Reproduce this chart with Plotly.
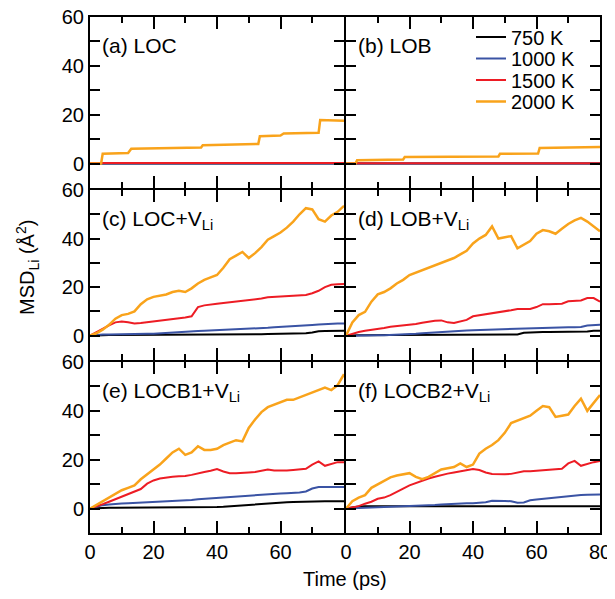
import plotly.graph_objects as go

W, H = 615, 599

# ---------------- data ----------------
t = list(range(0, 81, 2))  # time (ps), 2 ps steps

# (a) LOC
a_t_step = [0, 3.5, 4, 12, 13, 35, 35.5, 53, 53.5, 60, 61, 72, 72.5, 80]
a_2000 = [0, 0, 4, 4.3, 6.1, 6.6, 7.5, 8.0, 11.2, 11.5, 12.3, 12.6, 17.8, 17.5]
a_t_flat = [0, 80]
a_1500 = [0.2, 0.2]
a_1000 = [0.0, 0.0]
a_750 = [0.0, 0.0]

# (b) LOB
b_t_step = [0, 3, 3.5, 18, 18.5, 48, 48.5, 60.5, 61, 80]
b_2000 = [0, 0, 1.4, 1.7, 2.7, 2.9, 4.0, 4.1, 6.4, 6.8]
b_1500 = [0.1, 0.1]
b_1000 = [0.0, 0.0]
b_750 = [0.0, 0.0]

# (c) LOC+V_Li
c_2000 = [0, 1, 2.5, 4.5, 7, 8.5, 9, 10, 13, 15, 16, 16.5, 17, 18, 18.5, 18, 19.5, 21.5, 23, 24,
          25, 28, 31.5, 33, 34.5, 32, 34, 36.5, 39.5, 41, 42.5, 44.5, 47, 50, 52.5, 52, 48, 47, 49.5, 51, 53.5]
c_1500 = [0, 1.5, 3, 4.3, 5.5, 5.8, 5.5, 5, 5.2, 5.5, 5.8, 6, 6.3, 6.6, 7, 7.5, 8, 11.8, 12.5, 13,
          13.2, 13.5, 13.8, 14, 14.3, 14.5, 14.8, 15.3, 15.8, 16, 16.3, 16.5, 16.5, 16.7, 16.8, 17.5, 18.5, 20, 21, 21.2, 21.3]
c_1000 = [0, 0.3, 0.5, 0.5, 0.6, 0.6, 0.7, 0.7, 0.7, 0.8, 0.8, 1.0, 1.2, 1.3, 1.5, 1.6, 1.8, 1.9, 2.0, 2.1,
          2.2, 2.3, 2.5, 2.6, 2.7, 2.8, 3.0, 3.1, 3.3, 3.5, 3.6, 3.7, 3.9, 4.1, 4.3, 4.4, 4.6, 4.8, 4.9, 5.0, 5.0]
c_750 = [0, 0.2, 0.2, 0.3, 0.3, 0.3, 0.3, 0.3, 0.3, 0.3, 0.3, 0.3, 0.3, 0.4, 0.4, 0.4, 0.4, 0.4, 0.4, 0.4,
         0.4, 0.4, 0.5, 0.5, 0.5, 0.6, 0.6, 0.6, 0.7, 0.7, 0.8, 0.8, 0.9, 1.0, 1.0, 1.3, 1.8, 1.9, 2.0, 2.0, 2.0]

# (d) LOB+V_Li
d_2000 = [0, 5.5, 8.5, 9.8, 14, 17, 18, 19.5, 21.5, 23, 25, 26, 27, 28, 29, 30, 31, 32, 33.5, 35,
          38, 40, 41.5, 45, 40, 40.5, 41, 36, 37.5, 39, 42, 43.5, 43, 42, 44, 46, 47.5, 48.5, 47, 45, 43]
d_1500 = [0, 0.8, 1.5, 2, 2.3, 2.7, 3.2, 3.7, 4, 4.2, 4.3, 4.8, 5.3, 5.8, 6.2, 6.3, 5.5, 5.2, 5.8, 6.5,
          8, 8.4, 8.8, 9, 9.5, 9.8, 10.5, 11, 11, 11, 11.8, 13, 13, 13, 13.2, 14.2, 14.5, 14.5, 15.5, 15.5, 14]
d_1000 = [0, 0.1, 0.1, 0.2, 0.2, 0.2, 0.2, 0.3, 0.3, 0.3, 0.5, 0.8, 1.0, 1.2, 1.4, 1.6, 1.7, 1.8, 2.0, 2.1,
          2.3, 2.4, 2.5, 2.6, 2.7, 2.8, 2.9, 3.0, 3.1, 3.2, 3.2, 3.3, 3.3, 3.4, 3.4, 3.5, 3.5, 3.6, 4.2, 4.5, 4.5]
d_750 = [0, 0.2, 0.2, 0.2, 0.3, 0.3, 0.3, 0.3, 0.3, 0.3, 0.3, 0.4, 0.4, 0.4, 0.4, 0.4, 0.4, 0.4, 0.4, 0.5,
         0.5, 0.5, 0.5, 0.5, 0.5, 0.5, 0.5, 0.5, 1.2, 1.4, 1.5, 1.5, 1.5, 1.5, 1.5, 1.5, 1.5, 1.5, 1.7, 2.0, 2.0]

# (e) LOCB1+V_Li
e_2000 = [0, 1.5, 3, 4.5, 6, 7.5, 8.5, 9.5, 12, 14, 16, 18, 20.5, 23, 24.5, 22, 23, 25.5, 24, 24,
          24.5, 26, 27, 28, 27.5, 33, 36.5, 39.5, 41.5, 42.5, 43.5, 44.5, 44.5, 45.5, 46.5, 47.5, 48.5, 49.5, 48.5, 50.5, 55]
e_1500 = [0, 0.8, 1.8, 2.8, 3.8, 5, 5.8, 6.8, 8, 10.2, 11.5, 12.3, 12.8, 13, 13.2, 13.3, 13.8, 14.5, 15, 15.5,
          16.2, 15.2, 14.5, 14.5, 14.8, 14.8, 15, 15.5, 16, 15.6, 15.5, 15.6, 15.8, 16, 16.3, 18, 19.3, 17.5, 18.2, 19, 19]
e_1000 = [0, 0.8, 1.4, 1.7, 2, 2.1, 2.2, 2.3, 2.5, 2.6, 2.8, 2.9, 3, 3.1, 3.2, 3.3, 3.5, 3.8, 4, 4.3,
          4.5, 4.6, 4.8, 5, 5.2, 5.3, 5.5, 5.7, 5.9, 6.1, 6.2, 6.3, 6.4, 6.6, 7, 8.2, 8.8, 8.7, 8.7, 8.8, 8.8]
e_750 = [0, 0.2, 0.2, 0.3, 0.3, 0.3, 0.3, 0.3, 0.3, 0.3, 0.3, 0.3, 0.3, 0.3, 0.3, 0.4, 0.4, 0.4, 0.5, 0.5,
         0.6, 0.7, 0.9, 1.1, 1.3, 1.6, 1.9, 2.1, 2.2, 2.3, 2.5, 2.6, 2.7, 2.8, 2.9, 3.0, 3.0, 3.0, 3.0, 3.0, 3.0]

# (f) LOCB2+V_Li
f_2000 = [0, 3, 4.5, 5.5, 8.5, 10, 11.5, 12.8, 13.5, 14, 14.5, 13, 12, 13, 14.5, 16, 16.5, 17, 18.5, 17,
          18, 22.5, 24.5, 26, 28, 31, 35, 36, 37, 38, 40, 42, 41.5, 37.5, 38, 38.5, 42, 45, 40, 43.5, 46.5]
f_1500 = [0, 0.5, 1, 2, 2.8, 4, 4.5, 5.5, 7, 8.2, 9.5, 10.5, 11.5, 12.3, 13, 13.8, 14.3, 14.8, 15.3, 15.8,
          16.2, 15.8, 14.8, 14.2, 14, 14, 14.2, 14.8, 15.3, 15.3, 15.5, 15.5, 15.6, 15.8, 16.3, 18.5, 19.5, 17.5, 18.3, 19, 19.5]
f_1000 = [0, 0.1, 0.2, 0.3, 0.4, 0.5, 0.5, 0.6, 0.7, 0.8, 0.9, 1.0, 1.1, 1.3, 1.5, 1.7, 1.9, 2.0, 2.1, 2.2,
          2.2, 2.4, 2.6, 3.2, 3.3, 3.1, 3.0, 2.4, 2.5, 3.4, 3.7, 4.0, 4.4, 4.6, 4.8, 5.2, 5.5, 5.6, 5.7, 5.7, 5.8]
f_750 = [0, 0.5, 0.8, 0.9, 1.0, 1.0, 1.0, 1.0, 1.0, 1.0, 1.0, 1.0, 1.0, 1.0, 1.0, 1.0, 1.0, 1.0, 1.0, 1.0,
         1.0, 1.0, 1.0, 1.0, 1.0, 1.0, 1.0, 1.0, 1.0, 1.0, 1.0, 1.0, 1.0, 1.0, 1.0, 1.0, 1.0, 1.0, 1.0, 1.0, 1.0]

panel_labels = ["(a) LOC", "(b) LOB", "(c) LOC+V<sub>Li</sub>", "(d) LOB+V<sub>Li</sub>",
                "(e) LOCB1+V<sub>Li</sub>", "(f) LOCB2+V<sub>Li</sub>"]
temps = ["750 K", "1000 K", "1500 K", "2000 K"]
colors = ["#000000", "#3a53a4", "#ed1c24", "#f9a31b"]
widths = [2, 2, 2, 2.5]
y_tick_vals = [-10, 0, 10, 20, 30, 40, 50, 60]
y_tick_text = ["", "0", "", "20", "", "40", "", "60"]
x_tick_vals = [0, 20, 40, 60, 80]

panels = [
    [(a_t_flat, a_750), (a_t_flat, a_1000), (a_t_flat, a_1500), (a_t_step, a_2000)],
    [(a_t_flat, b_750), (a_t_flat, b_1000), (a_t_flat, b_1500), (b_t_step, b_2000)],
    [(t, c_750), (t, c_1000), (t, c_1500), (t, c_2000)],
    [(t, d_750), (t, d_1000), (t, d_1500), (t, d_2000)],
    [(t, e_750), (t, e_1000), (t, e_1500), (t, e_2000)],
    [(t, f_750), (t, f_1000), (t, f_1500), (t, f_2000)],
]

# ---------------- layout geometry (screen pixels; page body adds an 8 px offset) ----------------
OFF = 8
def px(x):
    return (x - OFF) / W
def py(y):
    return 1 - (y - OFF) / H

# plot-area spans (axis lines are drawn 1 px outside each span, so neighbours share one line)
col_spans = [(90, 344), (346, 600)]
row_spans = [(17, 188), (190, 360), (362, 533)]

FONT = "Liberation Sans, Arial, Helvetica, sans-serif"

fig = go.Figure()
layout = dict(
    width=W, height=H,
    margin=dict(l=0, r=0, t=0, b=0, pad=0, autoexpand=False),
    paper_bgcolor="white", plot_bgcolor="white",
    font=dict(family=FONT, size=20, color="black"),
    showlegend=True,
)

legend_names = ["legend", "legend2", "legend3", "legend4"]
legend_y_px = [37, 58.5, 80, 101.5]

for i, series in enumerate(panels):
    row, col = divmod(i, 2)
    n = "" if i == 0 else str(i + 1)
    xa, ya = "x" + n, "y" + n
    for k, (xs, ys) in enumerate(series):
        fig.add_trace(go.Scatter(
            x=xs, y=ys, mode="lines", name=temps[k],
            line=dict(color=colors[k], width=widths[k]),
            xaxis=xa, yaxis=ya,
            showlegend=(i == 1),
            legend=legend_names[k],
        ))
    cx0, cx1 = col_spans[col]
    ry0, ry1 = row_spans[row]
    bottom_row = row == 2
    xtext = ["0", "20", "40", "60", "" if col == 0 else "80"]
    layout["xaxis" + n] = dict(
        domain=[px(cx0), px(cx1)], range=[0, 80], anchor=ya, automargin=False,
        showline=True, linecolor="black", linewidth=2, mirror="ticks",
        ticks="inside", ticklen=12, tickwidth=1.5, tickcolor="black",
        tickvals=x_tick_vals, ticktext=xtext,
        showticklabels=bottom_row, ticklabeloverflow="allow",
        minor=dict(tickvals=[10, 30, 50, 70], ticks="inside", ticklen=6, tickwidth=1.5, tickcolor="black"),
        showgrid=False, zeroline=False, fixedrange=True,
        tickfont=dict(family=FONT, size=20, color="black"),
    )
    layout["yaxis" + n] = dict(
        domain=[py(ry1), py(ry0)], range=[-10, 60], anchor=xa, automargin=False,
        showline=True, linecolor="black", linewidth=2, mirror="ticks",
        ticks="inside", ticklen=10, tickwidth=1.5, tickcolor="black",
        tickvals=y_tick_vals, ticktext=y_tick_text,
        showticklabels=(col == 0), ticklabeloverflow="allow",
        showgrid=False, zeroline=False, fixedrange=True,
        tickfont=dict(family=FONT, size=20, color="black"),
    )

for k, ln in enumerate(legend_names):
    layout[ln] = dict(
        x=px(471), y=py(legend_y_px[k]), xanchor="left", yanchor="middle",
        bgcolor="rgba(0,0,0,0)", borderwidth=0,
        font=dict(family=FONT, size=20, color="black"),
        itemwidth=30, tracegroupgap=0,
    )

annotations = []
for i, lab in enumerate(panel_labels):
    row, col = divmod(i, 2)
    xpx = col_spans[col][0] + 10
    annotations.append(dict(
        x=px(xpx), y=py(row_spans[row][0] + 15), xref="paper", yref="paper",
        xanchor="left", yanchor="top", text=lab, showarrow=False,
        font=dict(family=FONT, size=21, color="black"),
    ))
annotations.append(dict(
    x=px(27), y=py(268), xref="paper", yref="paper", textangle=-90,
    xanchor="center", yanchor="middle", text="MSD<sub>Li</sub> (Å<sup>2</sup>)",
    showarrow=False, font=dict(family=FONT, size=20, color="black"),
))
annotations.append(dict(
    x=px(345), y=py(579), xref="paper", yref="paper",
    xanchor="center", yanchor="middle", text="Time (ps)",
    showarrow=False, font=dict(family=FONT, size=20, color="black"),
))
layout["annotations"] = annotations

fig.update_layout(**layout)
fig.write_html("out.html")
